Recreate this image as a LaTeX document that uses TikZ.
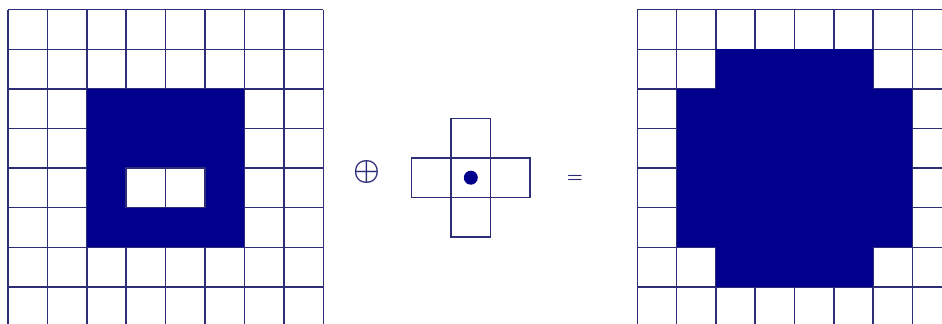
\documentclass[tikz,border=0pt]{standalone}
\usepackage{graphicx}
\usepackage{xcolor}
\usepackage{tikz}
\usetikzlibrary{positioning}
\definecolor{gridblue}{RGB}{45,45,120}
\definecolor{fillblue}{RGB}{0,0,140}

\begin{document}
\begin{tikzpicture}[x=0.75pt,y=-0.75pt]
\tikzset{
  gl/.style={draw=gridblue,line width=1.15pt},
  cl/.style={rectangle,draw=gridblue,line width=1.15pt,minimum width=29.6pt,minimum height=29.6pt,inner sep=0pt,outer sep=0pt},
  op/.style={text=gridblue,inner sep=0pt,font=\boldmath}
}
\useasboundingbox (0,0) rectangle (942,324);
\clip (0,0) rectangle (942,324);

% input image
\begin{scope}[shift={(8,9.7)},x=29.56pt,y=-29.7pt]
\foreach \i in {0,...,8}{\draw[gl] (\i,0)--(\i,8.5);}
\foreach \j in {0,...,8}{\draw[gl] (0,\j)--(8,\j);}
\fill[fillblue] (2,2) rectangle (6,6);
\draw[gl,fill=white] (3,4) rectangle (4,5);
\draw[gl,fill=white] (4,4) rectangle (5,5);
\end{scope}

% operator
\node[op] (dil) at (367,172.5) {\scalebox{2.25}{$\oplus$}};

% structuring element
\node[cl] (ctr) at (470.8,177.7) {};
\node[cl,above=0pt of ctr] (up) {};
\node[cl,below=0pt of ctr] (dn) {};
\node[cl,left=0pt of ctr] (lt) {};
\node[cl,right=0pt of ctr] (rt) {};
\node[circle,fill=fillblue,minimum size=10.5pt,inner sep=0pt] (org) at (ctr) {};

\node[op] (eq) at (575,179.2) {\scalebox{1.35}{$=$}};

% result
\begin{scope}[shift={(637.3,9.7)},x=29.48pt,y=-29.7pt]
\foreach \i in {0,...,8}{\draw[gl] (\i,0)--(\i,8.5);}
\foreach \j in {0,...,8}{\draw[gl] (0,\j)--(8.5,\j);}
\fill[fillblue] (2,1) rectangle (6,7);
\fill[fillblue] (1,2) rectangle (7,6);
\end{scope}
\end{tikzpicture}
\end{document}
